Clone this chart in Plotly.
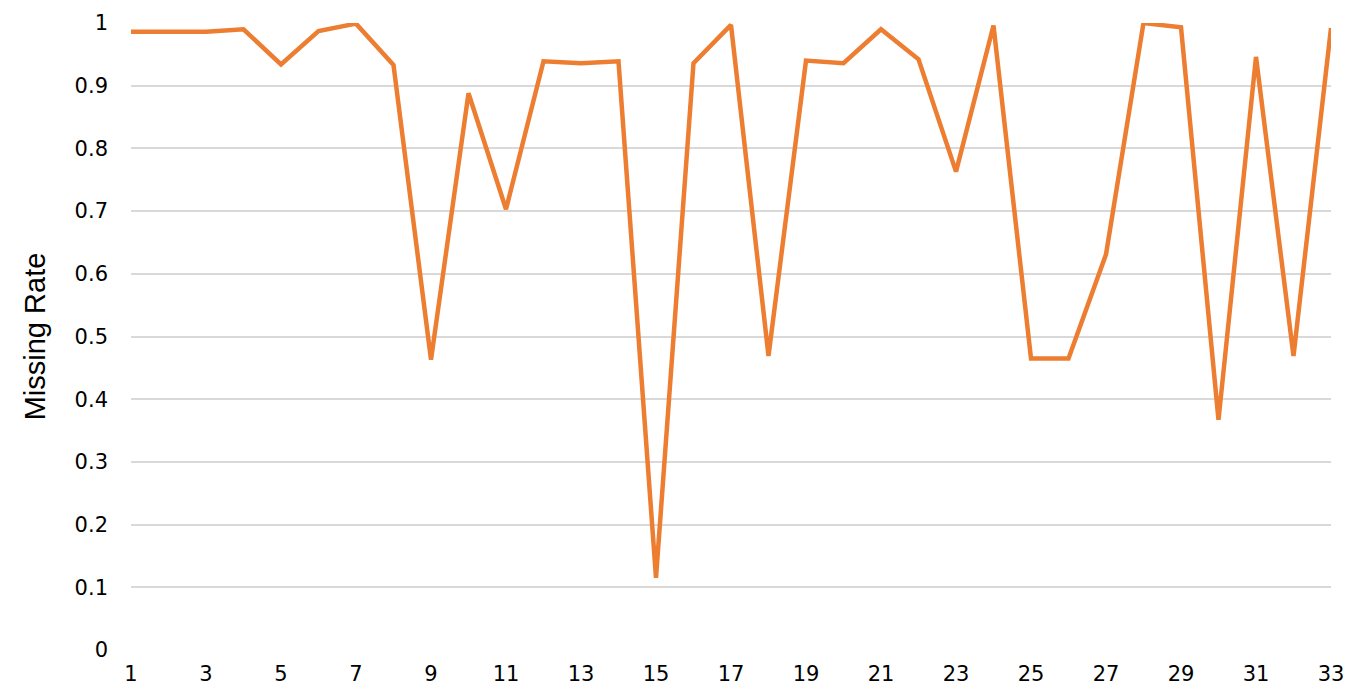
import plotly.graph_objects as go

x_index = list(range(1, 34))
missing_rate = [0.986, 0.986, 0.986, 0.990, 0.934, 0.987, 0.999, 0.933, 0.463, 0.888,
                0.703, 0.939, 0.936, 0.939, 0.115, 0.936, 0.997, 0.469, 0.940, 0.936,
                0.990, 0.942, 0.763, 0.996, 0.465, 0.465, 0.631, 1.000, 0.993, 0.367,
                0.946, 0.469, 0.992]
y_ticks = [0, 0.1, 0.2, 0.3, 0.4, 0.5, 0.6, 0.7, 0.8, 0.9, 1]
y_tick_text = ["0", "0.1", "0.2", "0.3", "0.4", "0.5", "0.6", "0.7", "0.8", "0.9", "1"]
x_ticks = list(range(1, 34, 2))

TICK_FONT = "DejaVu Sans, Liberation Sans, Arial, sans-serif"

fig = go.Figure()
fig.add_trace(go.Scatter(
    x=x_index, y=missing_rate, mode="lines",
    line=dict(color="#ED7D31", width=4.5),
    cliponaxis=False,
))

# the page body adds an 8px offset, so margins are compensated
fig.update_layout(
    width=1363, height=692,
    margin=dict(l=123, r=40, t=15, b=50, autoexpand=False),
    paper_bgcolor="white", plot_bgcolor="white",
    showlegend=False,
    font=dict(family="Liberation Sans, Arial, sans-serif", color="#000000"),
)
fig.update_xaxes(
    range=[1, 33], tickmode="array", tickvals=x_ticks,
    ticktext=[str(v) for v in x_ticks],
    showgrid=False, zeroline=False, showline=False, ticks="",
    tickfont=dict(size=21, family=TICK_FONT, color="#000000"),
    ticklabelstandoff=9,
)
fig.update_yaxes(
    range=[0, 1], tickmode="array", tickvals=y_ticks, ticktext=y_tick_text,
    showgrid=True, gridcolor="#D9D9D9", gridwidth=1.5,
    zeroline=False, showline=False, ticks="",
    tickfont=dict(size=21, family=TICK_FONT, color="#000000"),
    ticklabelstandoff=22,
    title=dict(text="Missing Rate", standoff=20,
               font=dict(size=29, family="Liberation Sans, Arial, sans-serif", color="#000000")),
)

fig.write_html("out.html")
